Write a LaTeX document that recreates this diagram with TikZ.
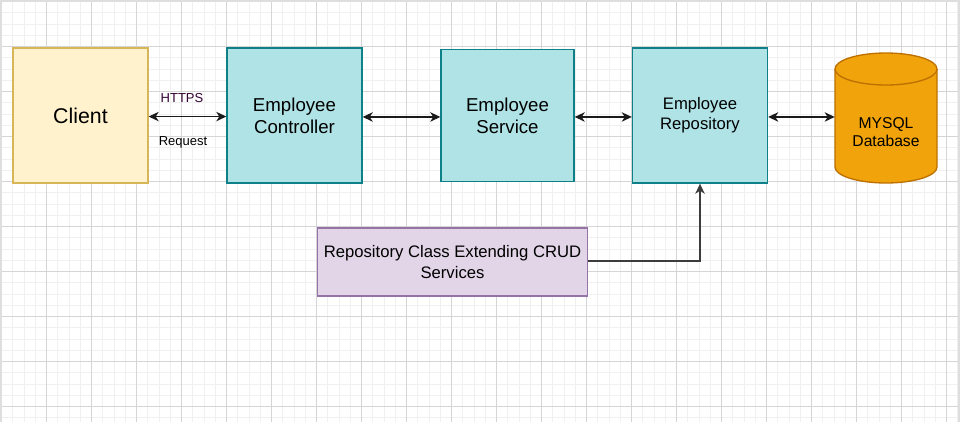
\documentclass[tikz,border=0pt]{standalone}
\usepackage{fontspec}
\setmainfont{Liberation Sans}
\usetikzlibrary{arrows.meta}
\definecolor{gridmaj}{RGB}{213,213,213}
\definecolor{gridmin}{RGB}{240,240,240}
\definecolor{gridborder}{RGB}{222,222,222}
\definecolor{clientfill}{HTML}{FFF2CC}
\definecolor{clientdraw}{HTML}{D6B656}
\definecolor{tealfill}{HTML}{B0E3E6}
\definecolor{tealdraw}{HTML}{0E8088}
\definecolor{dbfill}{HTML}{F0A30A}
\definecolor{dbdraw}{HTML}{BD7000}
\definecolor{purfill}{HTML}{E1D5E7}
\definecolor{purdraw}{HTML}{9673A6}
\definecolor{httpscol}{HTML}{330033}
\definecolor{linecol}{HTML}{1A1A1A}
\begin{document}
\begin{tikzpicture}[x=0.75pt,y=-0.75pt,
  box/.style={draw, line width=1pt, inner sep=0pt, align=center, text=black},
  clientbox/.style={box, fill=clientfill, draw=clientdraw},
  tealbox/.style={box, fill=tealfill, draw=tealdraw},
  crudbox/.style={box, fill=purfill, draw=purdraw},
  tip/.tip={Stealth[length=7.5pt,width=7pt,inset=2.2pt]},
  conn/.style={draw=linecol, line width=1.2pt, tip-tip},
  oneway/.style={draw=linecol!85, line width=1.2pt, -tip},
  lbl/.style={inner sep=0pt, font=\fontsize{9.75pt}{11pt}\selectfont}
]
\useasboundingbox (0,0) rectangle (961,422);
\fill[white] (0,0) rectangle (961,422);
% grid
\foreach \i in {0,...,85} {
  \draw[gridmin, line width=0.75pt] ({1.7+11.25*\i},1.5) -- ({1.7+11.25*\i},422);
}
\foreach \j in {0,...,37} {
  \draw[gridmin, line width=0.75pt] (1.5,{1.7+11.25*\j}) -- (958,{1.7+11.25*\j});
}
\foreach \i in {0,...,21} {
  \draw[gridmaj, line width=0.75pt] ({1.7+45*\i},1.5) -- ({1.7+45*\i},422);
}
\foreach \j in {0,...,9} {
  \draw[gridmaj, line width=0.75pt] (1.5,{1.7+45*\j}) -- (958,{1.7+45*\j});
}
\draw[gridborder, line width=1.5pt] (1.2,422) -- (1.2,1.2) -- (958.5,1.2) -- (958.5,422);

% nodes
\node[clientbox, minimum width={135*0.75pt}, minimum height={135*0.75pt},
  font=\fontsize{16pt}{19pt}\selectfont] (client) at (80.5,115.5) {Client};
\node[tealbox, minimum width={135*0.75pt}, minimum height={135*0.75pt},
  font=\fontsize{14pt}{16.5pt}\selectfont] (ctrl) at (294.5,115.5) {Employee\\Controller};
\node[tealbox, minimum width={133*0.75pt}, minimum height={132*0.75pt},
  font=\fontsize{14pt}{16.5pt}\selectfont] (svc) at (507.5,115.5) {Employee\\Service};
\node[tealbox, minimum width={135*0.75pt}, minimum height={135*0.75pt},
  font=\fontsize{12.5pt}{15pt}\selectfont] (repo) at (700,115.5) {Employee\\Repository};
\node[crudbox, minimum width={270*0.75pt}, minimum height={68*0.75pt},
  font=\fontsize{12.5pt}{15.5pt}\selectfont] (crud) at (452.5,262) {Repository Class Extending CRUD\\Services};

% database cylinder
\node[inner sep=0pt, minimum width={102*0.75pt}, minimum height={130*0.75pt}] (db) at (886,118) {};
\draw[fill=dbfill, draw=dbdraw, line width=1pt] (835,69) -- (835,167)
  arc[start angle=180, end angle=0, x radius=51, y radius=16] -- (937,69);
\draw[fill=dbfill, draw=dbdraw, line width=1pt] (886,69) ellipse [x radius=51, y radius=16];
\node[inner sep=0pt, align=center, font=\fontsize{11.75pt}{13.5pt}\selectfont] (dbtext) at (886,132) {MYSQL\\Database};

% connectors
\draw[conn] ([yshift=-0.8pt]client.east) -- ([yshift=-0.8pt]ctrl.west);
\draw[conn] ([yshift=-1.1pt]ctrl.east) -- ([yshift=-1.1pt]svc.west);
\draw[conn] ([yshift=-1.1pt]svc.east) -- ([yshift=-1.1pt]repo.west);
\draw[conn] ([yshift=-1.1pt]repo.east) -- ([yshift=-1.1pt]repo.east -| db.west);
\draw[oneway] ([yshift=0.6pt]crud.east) -| (repo.south);

% labels
\node[lbl, text=httpscol] (https) at (182,98) {HTTPS};
\node[lbl, text=black] (req) at (183,142) {Request};
\end{tikzpicture}
\end{document}
